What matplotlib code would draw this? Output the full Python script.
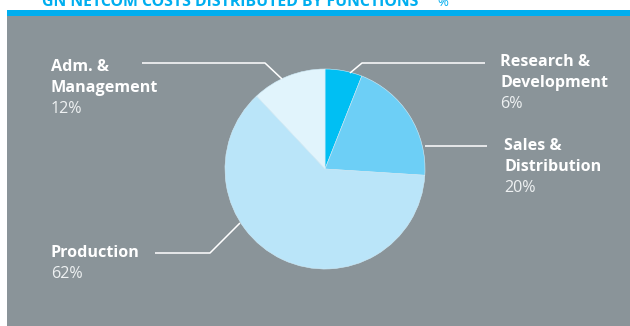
import matplotlib
matplotlib.use("Agg")
import matplotlib.pyplot as plt
from matplotlib.patches import Rectangle

plt.rcParams["font.family"] = ["Open Sans", "DejaVu Sans"]

# data
functions = ["Research &\nDevelopment", "Sales &\nDistribution", "Production", "Adm. &\nManagement"]
shares = [6, 20, 62, 12]
share_labels = ["6%", "20%", "62%", "12%"]
colors = ["#00bff3", "#6dcff6", "#bae5f9", "#e1f4fc"]

W, H = 630, 326
GREY = "#8a9499"
BLUE = "#00aeef"


def py(y):
    # pixel row from top -> data y
    return H - y


fig = plt.figure(figsize=(W / 100, H / 100), dpi=100)
fig.patch.set_facecolor("white")
ax = fig.add_axes([0, 0, 1, 1])
ax.set_xlim(0, W)
ax.set_ylim(0, H)
ax.set_aspect("equal")
ax.axis("off")

# panel + blue rule
ax.add_patch(Rectangle((7, 0), W - 7, py(16), color=GREY, lw=0, zorder=0))
ax.add_patch(Rectangle((7, py(15.5)), W - 7, 5.5, color=BLUE, lw=0, zorder=0))

# title, cut off at the top edge like the source
ax.text(42, py(6.5), "GN NETCOM COSTS DISTRIBUTED BY FUNCTIONS", color=BLUE,
        fontsize=11.4, fontweight="bold", va="baseline", ha="left")
ax.text(437, py(6.5), "%", color=BLUE, fontsize=9.5, va="baseline", ha="left")

ax.pie(shares, colors=colors, startangle=90, counterclock=False,
       center=(325, py(169)), radius=100,
       wedgeprops=dict(linewidth=0.4, edgecolor="#d0ecf9"))
ax.set_xlim(0, W)
ax.set_ylim(0, H)

# leader lines (pixel positions)
leaders = [
    [(350, 73), (362, 63), (485, 63)],
    [(425, 146), (487, 146)],
    [(240, 223), (210, 253), (155, 253)],
    [(282, 79), (265, 63), (142, 63)],
]
for pts in leaders:
    ax.plot([p[0] for p in pts], [py(p[1]) for p in pts], color="white", lw=1.1,
            solid_capstyle="butt", zorder=3)

# label anchors: x left, y centre of first line
anchors = [(500, 62), (504, 146), (51, 253), (51, 67)]
step = 21
for name, pct, (x, y) in zip(functions, share_labels, anchors):
    lines = name.split("\n")
    for i, ln in enumerate(lines):
        ax.text(x, py(y + i * step), ln, color="white", fontsize=11.6,
                fontweight="bold", va="center", ha="left")
    ax.text(x, py(y + len(lines) * step), pct, color="#eef1f2", fontsize=11.6,
            va="center", ha="left")

fig.savefig("out.png", dpi=100, facecolor=fig.get_facecolor())
